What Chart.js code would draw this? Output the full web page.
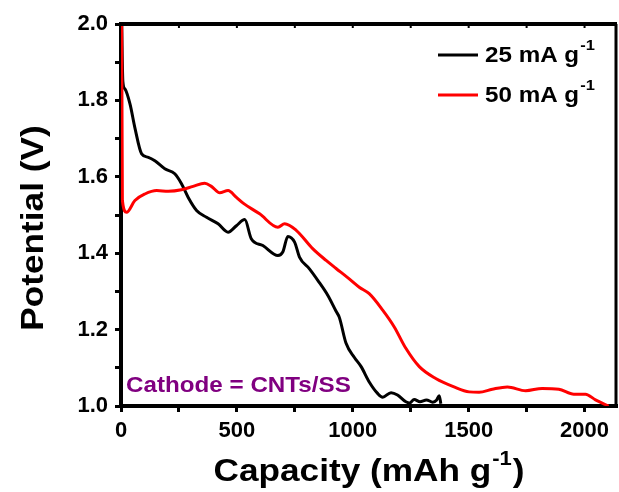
<!DOCTYPE html>
<html>
<head>
<meta charset="utf-8">
<script src="https://cdn.jsdelivr.net/npm/chart.js@4.4.1/dist/chart.umd.min.js"></script>
<style>
  html, body { margin: 0; padding: 0; background: #fff; }
  canvas { display: block; }
</style>
</head>
<body>
<canvas id="c" width="619" height="492"></canvas>
<script>
// Discharge curves: capacity (mAh g-1) vs potential (V)
const black25X = [3, 8, 17, 39, 60, 89, 118, 146, 189, 232, 261, 290, 326, 369, 419, 462, 498, 534, 562, 612, 677, 698, 720, 749, 770, 813, 849, 892, 928, 942, 971, 1007, 1036, 1071, 1107, 1129, 1165, 1193, 1229, 1245, 1265, 1290, 1318, 1345, 1362, 1373, 1380];
const black25Y = [2.0, 1.85, 1.83, 1.79, 1.728, 1.66, 1.651, 1.642, 1.621, 1.608, 1.582, 1.546, 1.512, 1.494, 1.477, 1.455, 1.472, 1.488, 1.438, 1.42, 1.394, 1.403, 1.444, 1.429, 1.39, 1.359, 1.329, 1.29, 1.248, 1.232, 1.164, 1.127, 1.103, 1.063, 1.033, 1.023, 1.035, 1.029, 1.011, 1.008, 1.017, 1.011, 1.016, 1.010, 1.016, 1.027, 1.006];

const red50X = [3, 6, 24, 60, 103, 154, 204, 261, 311, 361, 390, 426, 462, 498, 527, 598, 677, 706, 756, 827, 885, 928, 978, 1028, 1071, 1129, 1179, 1229, 1287, 1358, 1437, 1502, 1545, 1602, 1667, 1746, 1817, 1889, 1954, 2004, 2047, 2104];
const red50Y = [2.0, 1.538, 1.507, 1.538, 1.555, 1.564, 1.562, 1.566, 1.575, 1.583, 1.575, 1.558, 1.564, 1.546, 1.531, 1.503, 1.468, 1.477, 1.46, 1.412, 1.381, 1.36, 1.336, 1.311, 1.294, 1.251, 1.207, 1.151, 1.103, 1.072, 1.05, 1.037, 1.036, 1.044, 1.05, 1.04, 1.046, 1.044, 1.031, 1.031, 1.016, 1.0];

const seriesNames = ['25 mA g', '50 mA g'];
const seriesSup = '-1';
const seriesColors = ['#000000', '#ff0000'];

const xTickLabels = ['0', '500', '1000', '1500', '2000'];
const yTickLabels = ['1.0', '1.2', '1.4', '1.6', '1.8', '2.0'];

const xTitle = 'Capacity (mAh g';
const xTitleSup = '-1';
const xTitleEnd = ')';
const yTitle = 'Potential (V)';
const noteText = 'Cathode = CNTs/SS';

const FONT = '"Liberation Sans", Arial, Helvetica, sans-serif';
const WIDEN = 1.1; // horizontal widening of the label lettering

function toPoints(xs, ys) {
  return xs.map((x, i) => ({ x: x, y: ys[i] }));
}

// draws widened text with its left end at (x, y); returns the drawn width
function wideText(ctx, text, x, y, size) {
  ctx.save();
  ctx.font = `bold ${size}px ${FONT}`;
  ctx.textAlign = 'left';
  ctx.translate(x, y);
  ctx.scale(WIDEN, 1);
  ctx.fillText(text, 0, 0);
  const w = ctx.measureText(text).width * WIDEN;
  ctx.restore();
  return w;
}
function wideWidth(ctx, text, size) {
  ctx.save();
  ctx.font = `bold ${size}px ${FONT}`;
  const w = ctx.measureText(text).width * WIDEN;
  ctx.restore();
  return w;
}

// Frame, top ticks, legend, titles and the cathode note
const decorations = {
  id: 'decorations',
  afterDraw(chart) {
    const ctx = chart.ctx;
    const a = chart.chartArea;
    const xs = chart.scales.x;
    ctx.save();
    ctx.strokeStyle = '#000';
    ctx.lineCap = 'butt';
    // top and right frame
    ctx.lineWidth = 4;
    ctx.beginPath();
    ctx.moveTo(a.left - 2, a.top);
    ctx.lineTo(a.right, a.top);
    ctx.stroke();
    ctx.lineWidth = 3;
    ctx.beginPath();
    ctx.moveTo(a.right - 1, a.top);
    ctx.lineTo(a.right - 1, a.bottom);
    ctx.stroke();
    // small inward ticks along the top
    ctx.lineWidth = 2;
    for (let v = 250; v < xs.max; v += 250) {
      const px = xs.getPixelForValue(v);
      ctx.beginPath();
      ctx.moveTo(px, a.top);
      ctx.lineTo(px, a.top + 4);
      ctx.stroke();
    }

    ctx.textBaseline = 'alphabetic';

    // legend
    const legRows = [55, 95];
    seriesNames.forEach((name, i) => {
      const y = legRows[i];
      ctx.strokeStyle = seriesColors[i];
      ctx.lineWidth = 3;
      ctx.beginPath();
      ctx.moveTo(438, y);
      ctx.lineTo(478, y);
      ctx.stroke();
      ctx.fillStyle = '#000';
      const w = wideText(ctx, name, 485, y + 7, 22);
      wideText(ctx, seriesSup, 485 + w + 1, y - 5, 15);
    });

    // note
    ctx.fillStyle = '#800080';
    wideText(ctx, noteText, 126, 392, 22);

    // x title
    ctx.fillStyle = '#000';
    const w1 = wideWidth(ctx, xTitle, 32);
    const w2 = wideWidth(ctx, xTitleSup, 20);
    const w3 = wideWidth(ctx, xTitleEnd, 32);
    const total = w1 + w2 + w3 + 2;
    const sx = (a.left + a.right) / 2 - total / 2;
    wideText(ctx, xTitle, sx, 481, 32);
    wideText(ctx, xTitleSup, sx + w1 + 1, 465, 20);
    wideText(ctx, xTitleEnd, sx + w1 + w2 + 2, 481, 32);

    // y title (rotated)
    ctx.save();
    ctx.translate(43, 228);
    ctx.rotate(-Math.PI / 2);
    const wy = wideWidth(ctx, yTitle, 32);
    wideText(ctx, yTitle, -wy / 2, 0, 32);
    ctx.restore();

    ctx.restore();
  }
};

function fixedTicks(values) {
  return function (scale) {
    scale.ticks = values.map(v => ({ value: v }));
  };
}
const xTickValues = [];
for (let v = 0; v <= 2000; v += 250) xTickValues.push(v);
const yTickValues = [];
for (let i = 0; i <= 10; i++) yTickValues.push(Math.round((1 + i * 0.1) * 10) / 10);

new Chart(document.getElementById('c'), {
  type: 'line',
  data: {
    datasets: [
      {
        label: seriesNames[0],
        data: toPoints(black25X, black25Y),
        borderColor: seriesColors[0],
        borderWidth: 3,
        pointRadius: 0,
        tension: 0.3,
        cubicInterpolationMode: 'monotone',
        order: 1
      },
      {
        label: seriesNames[1],
        data: toPoints(red50X, red50Y),
        borderColor: seriesColors[1],
        borderWidth: 3,
        pointRadius: 0,
        tension: 0.3,
        cubicInterpolationMode: 'monotone',
        order: 0
      }
    ]
  },
  options: {
    responsive: false,
    animation: false,
    devicePixelRatio: 1,
    layout: { padding: { top: 24, right: 2, left: 0, bottom: 0 } },
    plugins: { legend: { display: false }, tooltip: { enabled: false } },
    scales: {
      x: {
        type: 'linear',
        min: 0,
        max: 2140,
        afterBuildTicks: fixedTicks(xTickValues),
        afterFit(scale) { scale.height = 86; },
        border: { display: true, color: '#000', width: 4 },
        grid: { drawOnChartArea: false, color: '#000', tickColor: '#000', tickLength: 6, tickWidth: 3 },
        ticks: {
          padding: 6,
          color: '#000',
          maxRotation: 0,
          autoSkip: false,
          font: { family: FONT, size: 22, weight: 'bold' },
          callback(v) {
            const s = String(Math.round(v));
            return xTickLabels.includes(s) ? s : '';
          }
        }
      },
      y: {
        min: 1.0,
        max: 2.0,
        afterBuildTicks: fixedTicks(yTickValues),
        afterFit(scale) { scale.width = 121; },
        border: { display: true, color: '#000', width: 4 },
        grid: { drawOnChartArea: false, color: '#000', tickColor: '#000', tickLength: 6, tickWidth: 3 },
        ticks: {
          padding: 7,
          color: '#000',
          autoSkip: false,
          font: { family: FONT, size: 22, weight: 'bold' },
          callback(v) {
            const s = v.toFixed(1);
            return yTickLabels.includes(s) ? s : '';
          }
        }
      }
    }
  },
  plugins: [decorations]
});
</script>
</body>
</html>
